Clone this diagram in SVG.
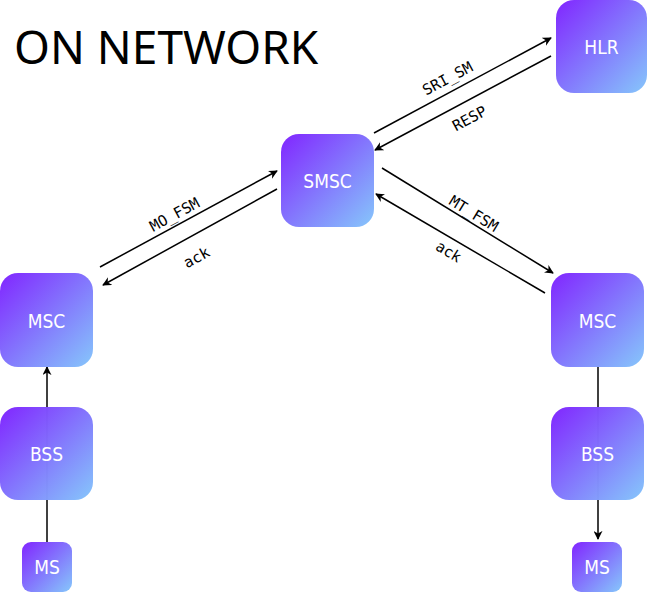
<svg xmlns="http://www.w3.org/2000/svg" width="649" height="593" viewBox="0 0 649 593">
<style>
.t{font-family:"Noto Sans","Open Sans",sans-serif;font-size:46px;fill:#000}
.n{font-family:"DejaVu Sans",sans-serif;font-stretch:condensed;font-size:19px;fill:#fff;text-anchor:middle;dominant-baseline:central}
.l{font-family:"DejaVu Sans Mono",monospace;font-size:15px;fill:#000;text-anchor:middle}
.c{stroke:#000;stroke-width:1.5;fill:none;marker-end:url(#ah)}
.box{fill:url(#g);opacity:0.985}
</style>
<defs>
<linearGradient id="g" x1="0" y1="0" x2="1" y2="1">
<stop offset="0" stop-color="#7f22ff"/>
<stop offset="1" stop-color="#84c6fb"/>
</linearGradient>
<marker id="ah" viewBox="0 0 10 10" refX="9" refY="5" markerWidth="9" markerHeight="9" markerUnits="userSpaceOnUse" orient="auto">
<path d="M0,0 L10,5 L0,10 L3,5 Z" fill="#000"/>
</marker>
</defs>
<text class="t" x="14" y="64">ON NETWORK</text>
<g id="connectors">
<line class="c" x1="374" y1="133" x2="551" y2="38"/>
<line class="c" x1="551" y1="56" x2="375" y2="150"/>
<line class="c" x1="100" y1="267" x2="277" y2="171"/>
<line class="c" x1="277" y1="189" x2="103" y2="285"/>
<line class="c" x1="382" y1="168" x2="553" y2="273"/>
<line class="c" x1="545" y1="293" x2="376" y2="194"/>
<line class="c" x1="47" y1="542" x2="47" y2="367"/>
<line class="c" x1="598" y1="367" x2="598" y2="539"/>
<text class="l" transform="translate(450,83) rotate(-28.2)">SRI_SM</text>
<text class="l" transform="translate(472,123) rotate(-28.2)">RESP</text>
<text class="l" transform="translate(177,219) rotate(-28.5)">MO_FSM</text>
<text class="l" transform="translate(199,262) rotate(-28.5)">ack</text>
<text class="l" transform="translate(471,218) rotate(31.5)">MT_FSM</text>
<text class="l" transform="translate(446,256) rotate(31.5)">ack</text>
</g>
<g id="hlr"><rect class="box" x="556" y="0" width="91" height="93" rx="18"/><text class="n" x="601.5" y="47">HLR</text></g>
<g id="smsc"><rect class="box" x="281" y="134" width="93" height="93" rx="18"/><text class="n" x="327.5" y="181">SMSC</text></g>
<g id="msc-left"><rect class="box" x="0" y="273" width="93" height="94" rx="18"/><text class="n" x="46.5" y="321">MSC</text></g>
<g id="msc-right"><rect class="box" x="551" y="273" width="93" height="94" rx="18"/><text class="n" x="597.5" y="321">MSC</text></g>
<g id="bss-left"><rect class="box" x="0" y="407" width="93" height="93" rx="18"/><text class="n" x="46.5" y="454">BSS</text></g>
<g id="bss-right"><rect class="box" x="551" y="407" width="93" height="93" rx="18"/><text class="n" x="597.5" y="454">BSS</text></g>
<g id="ms-left"><rect class="box" x="22" y="542" width="50" height="50" rx="9"/><text class="n" x="47" y="567">MS</text></g>
<g id="ms-right"><rect class="box" x="572" y="542" width="50" height="50" rx="9"/><text class="n" x="597" y="567">MS</text></g>
</svg>
